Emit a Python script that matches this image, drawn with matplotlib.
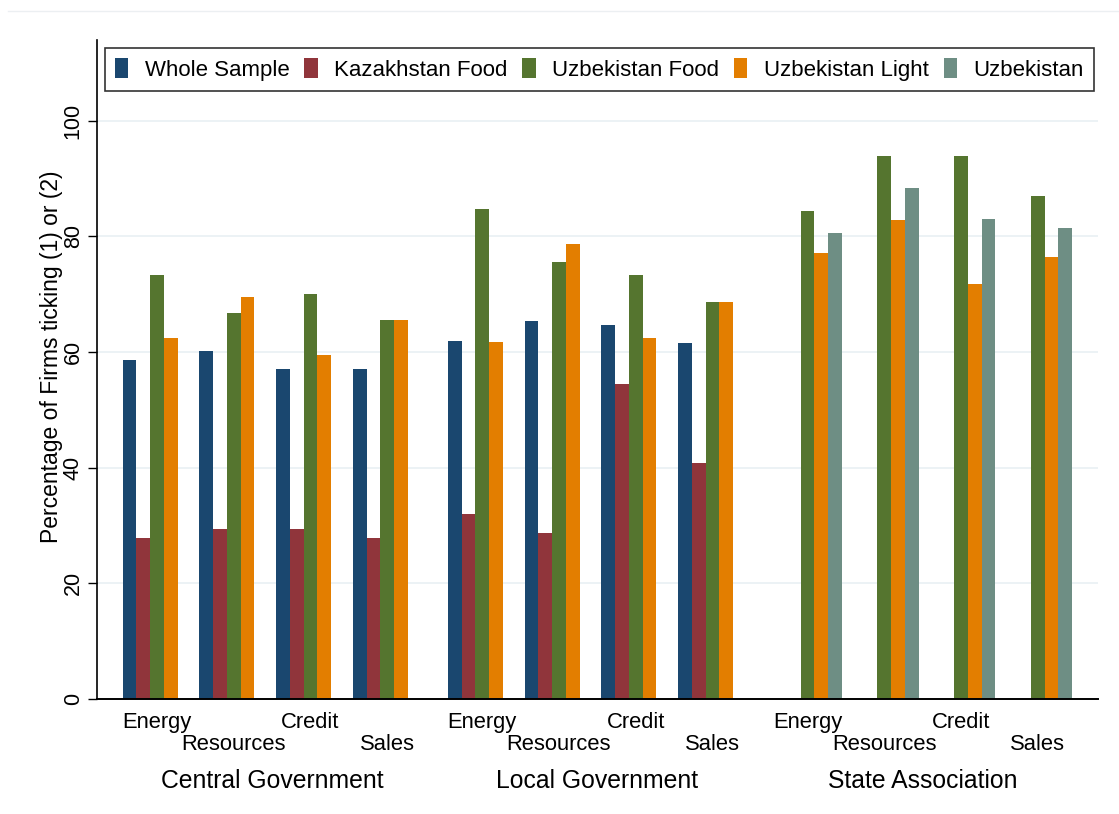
import numpy as np
import matplotlib.pyplot as plt
from matplotlib.patches import Patch
from matplotlib.lines import Line2D

plt.rcParams['font.family'] = ['Liberation Sans', 'DejaVu Sans']

# ========== Data ==========
groups = ["Central Government", "Local Government", "State Association"]
categories = ["Energy", "Resources", "Credit", "Sales"]
series = ["Whole Sample", "Kazakhstan Food", "Uzbekistan Food", "Uzbekistan Light", "Uzbekistan"]
colors = ["#1a476f", "#90353b", "#55752f", "#e37e00", "#6e8e84"]

nan = np.nan
# each row: one series, 12 values (group x category)
whole_sample = [58.7, 60.2, 57.0, 57.0,   61.9, 65.4, 64.7, 61.5,   nan, nan, nan, nan]
kaz_food     = [27.8, 29.4, 29.4, 27.8,   32.0, 28.6, 54.4, 40.8,   nan, nan, nan, nan]
uzb_food     = [73.3, 66.7, 70.0, 65.5,   84.8, 75.6, 73.4, 68.7,   84.4, 93.9, 93.9, 87.0]
uzb_light    = [62.5, 69.5, 59.5, 65.6,   61.7, 78.7, 62.4, 68.7,   77.1, 82.9, 71.8, 76.4]
uzb_total    = [nan, nan, nan, nan,       nan, nan, nan, nan,       80.6, 88.3, 83.1, 81.5]
values = [whole_sample, kaz_food, uzb_food, uzb_light, uzb_total]

yticks = [0, 20, 40, 60, 80, 100]

# ========== Layout ==========
bar_w = 1.0
cat_gap = 0.58
group_gap = 1.33
slot = len(series) * bar_w

cat_left = []
left = 0.0
for g in range(len(groups)):
    for c in range(len(categories)):
        cat_left.append(left)
        left += slot + cat_gap
    left += group_gap
cat_left = np.array(cat_left)
x_end = cat_left[-1] + slot

W, H = 1119, 814
fig = plt.figure(figsize=(W / 100, H / 100), dpi=100)
ax = fig.add_axes([97 / W, (H - 698.7) / H, 1001 / W, 658.7 / H])

for i, (name, col) in enumerate(zip(series, colors)):
    ax.bar(cat_left + i * bar_w, values[i], width=bar_w, align="edge",
           color=col, edgecolor="none", zorder=3)

ax.set_xlim(-1.87, x_end + 1.89)
ax.set_ylim(0, 114)

# grid
ax.set_yticks(yticks)
ax.set_yticklabels([str(t) for t in yticks], rotation=90, va="center", fontsize=15.5)
for t in yticks[1:]:
    ax.axhline(t, color="#e9f0f3", lw=1.2, zorder=1)
ax.tick_params(axis="y", length=6.5, width=1.0, pad=3, direction="out")
ax.set_xticks([])

for s in ["top", "right"]:
    ax.spines[s].set_visible(False)
ax.spines["left"].set_linewidth(1.2)
ax.spines["bottom"].set_linewidth(1.4)
ax.spines["bottom"].set_zorder(4)

# y label
fig.text(52 / W, 1 - 357 / H, "Percentage of Firms ticking (1) or (2)",
         rotation=90, ha="center", va="center", fontsize=16.5)

# category labels (two alternating rows) and group labels
for k, x0 in enumerate(cat_left):
    c = k % len(categories)
    xc = x0 + slot / 2
    off = -21 if c % 2 == 0 else -37
    ax.annotate(categories[c], xy=(xc, 0), xycoords=("data", "axes fraction"),
                xytext=(0, off), textcoords="offset points",
                ha="center", va="baseline", fontsize=15.8, annotation_clip=False)

for g, name in enumerate(groups):
    first = cat_left[g * len(categories)]
    last = cat_left[(g + 1) * len(categories) - 1] + slot
    ax.annotate(name, xy=((first + last) / 2, 0), xycoords=("data", "axes fraction"),
                xytext=(0, -64.5), textcoords="offset points",
                ha="center", va="baseline", fontsize=17.8, annotation_clip=False)

# legend
handles = [Patch(facecolor=col, edgecolor="none") for col in colors]
leg = fig.legend(handles, series, loc="upper left",
                 bbox_to_anchor=(105 / W, 1 - 47.7 / H), bbox_transform=fig.transFigure,
                 ncol=5, fontsize=16, frameon=True, fancybox=False,
                 handlelength=0.6, handleheight=1.04, handletextpad=0.73,
                 columnspacing=0.68, borderpad=0.45, borderaxespad=0)
leg.get_frame().set_edgecolor("black")
leg.get_frame().set_linewidth(1.2)

# faint outer rule at the top
fig.add_artist(Line2D([8 / W, 1.0], [1 - 11 / H, 1 - 11 / H], transform=fig.transFigure,
                      color="#eceff2", lw=1.0))

fig.savefig("out.png", dpi=100, facecolor="white")
